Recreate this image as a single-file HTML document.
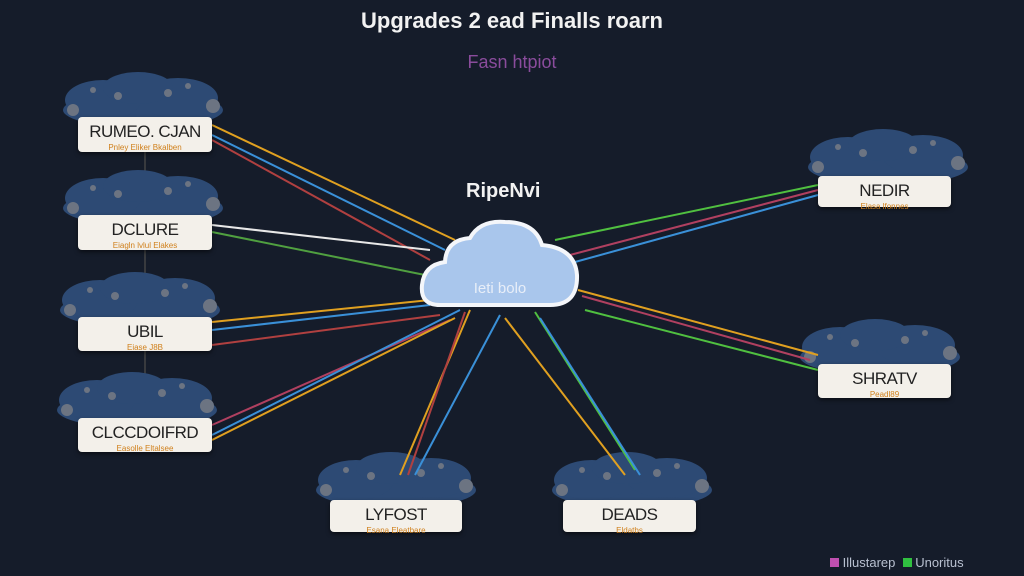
<!DOCTYPE html>
<html><head><style>
body{margin:0;width:1024px;height:576px;background:#151c2a;overflow:hidden;font-family:"Liberation Sans",sans-serif;position:relative}
.box{position:absolute;background:#f3f0ea;border-radius:4px;text-align:center;color:#222;box-shadow:0 2px 4px #0008}
.box b{display:block;font-weight:normal;font-size:17px;margin-top:5px;letter-spacing:-0.5px}
.box i{display:block;font-style:normal;font-size:8px;color:#d0801c;margin-top:1px}
.t{position:absolute;width:100%;text-align:center}
</style></head><body>
<div class="t" style="top:8px;font-size:22px;font-weight:bold;color:#f2f2f2">Upgrades 2 ead Finalls roarn</div>
<div class="t" style="top:52px;font-size:18px;color:#8a4c9c">Fasn htpiot</div>
<div style="position:absolute;left:466px;top:180px;font-size:20px;font-weight:bold;color:#f2f2f2">RipeNvi</div>
<svg width="1024" height="576" style="position:absolute;left:0;top:0">
<defs>
<g id="cl"><ellipse cx="0" cy="2" rx="80" ry="18" fill="#2d4a74"/><ellipse cx="-40" cy="-8" rx="38" ry="20" fill="#2d4a74"/><ellipse cx="35" cy="-10" rx="40" ry="20" fill="#2d4a74"/><ellipse cx="-5" cy="-20" rx="35" ry="16" fill="#2d4a74"/><circle cx="-70" cy="2" r="6" fill="#6c7482"/><circle cx="70" cy="-2" r="7" fill="#6c7482"/><circle cx="25" cy="-15" r="4" fill="#6c7482"/><circle cx="-25" cy="-12" r="4" fill="#6c7482"/><circle cx="45" cy="-22" r="3" fill="#6c7482"/><circle cx="-50" cy="-18" r="3" fill="#6c7482"/></g>
</defs>
<line x1="145" y1="150" x2="145" y2="420" stroke="#444" stroke-width="1.5"/>
<use href="#cl" x="143" y="108"/><use href="#cl" x="143" y="206"/><use href="#cl" x="140" y="308"/><use href="#cl" x="137" y="408"/>
<use href="#cl" x="888" y="165"/><use href="#cl" x="880" y="355"/><use href="#cl" x="396" y="488"/><use href="#cl" x="632" y="488"/>
<g stroke-width="2" fill="none">
<line x1="212" y1="125" x2="455" y2="240" stroke="#e0a020"/>
<line x1="212" y1="135" x2="445" y2="250" stroke="#3a90d8"/>
<line x1="212" y1="140" x2="430" y2="260" stroke="#b04040"/>
<line x1="212" y1="225" x2="430" y2="250" stroke="#e8e8e8"/>
<line x1="212" y1="232" x2="425" y2="275" stroke="#50a040"/>
<line x1="212" y1="322" x2="430" y2="300" stroke="#e0a020"/>
<line x1="212" y1="330" x2="430" y2="305" stroke="#3a90d8"/>
<line x1="212" y1="345" x2="440" y2="315" stroke="#b04040"/>
<line x1="212" y1="425" x2="450" y2="320" stroke="#b04060"/>
<line x1="212" y1="435" x2="460" y2="310" stroke="#3a90d8"/>
<line x1="212" y1="440" x2="455" y2="318" stroke="#e0a020"/>
<line x1="555" y1="240" x2="818" y2="185" stroke="#50c040"/>
<line x1="570" y1="255" x2="818" y2="190" stroke="#b04060"/>
<line x1="575" y1="262" x2="818" y2="195" stroke="#3a90d8"/>
<line x1="578" y1="290" x2="818" y2="355" stroke="#e0a020"/>
<line x1="582" y1="296" x2="810" y2="360" stroke="#b04060"/>
<line x1="585" y1="310" x2="818" y2="370" stroke="#50c040"/>
<line x1="470" y1="310" x2="400" y2="475" stroke="#e0a020"/>
<line x1="465" y1="312" x2="408" y2="475" stroke="#b04040"/>
<line x1="500" y1="315" x2="415" y2="475" stroke="#3a90d8"/>
<line x1="505" y1="318" x2="625" y2="475" stroke="#e0a020"/>
<line x1="535" y1="312" x2="635" y2="470" stroke="#50c040"/>
<line x1="540" y1="318" x2="640" y2="475" stroke="#3a90d8"/>
</g>
<path d="M440 305 Q420 305 422 285 Q424 265 445 262 Q446 240 470 238 Q480 220 505 222 Q535 222 542 245 Q575 248 577 275 Q578 305 550 305 Z" fill="#a9c6ec" stroke="#f4f6fa" stroke-width="4"/>
<text x="500" y="293" text-anchor="middle" font-size="15" fill="#e8eef8" font-family="Liberation Sans">Ieti bolo</text>
</svg>
<div class="box" style="left:78px;top:117px;width:134px;height:35px"><b>RUMEO. CJAN</b><i>Pnley Eliker Bkalben</i></div>
<div class="box" style="left:78px;top:215px;width:134px;height:35px"><b>DCLURE</b><i>Eiagln lvlul Elakes</i></div>
<div class="box" style="left:78px;top:317px;width:134px;height:34px"><b>UBIL</b><i>Eiase J8B</i></div>
<div class="box" style="left:78px;top:418px;width:134px;height:34px"><b>CLCCDOIFRD</b><i>Easolle Eltalsee</i></div>
<div class="box" style="left:818px;top:176px;width:133px;height:31px"><b>NEDIR</b><i>Elasa lfonnes</i></div>
<div class="box" style="left:818px;top:364px;width:133px;height:34px"><b>SHRATV</b><i>Peadl89</i></div>
<div class="box" style="left:330px;top:500px;width:132px;height:32px"><b>LYFOST</b><i>Esana Eleatbare</i></div>
<div class="box" style="left:563px;top:500px;width:133px;height:32px"><b>DEADS</b><i>Eldatbs</i></div>
<div style="position:absolute;left:830px;top:555px;font-size:13px;color:#b8c0d0"><span style="display:inline-block;width:9px;height:9px;background:#c050b0"></span> Illustarep &nbsp;<span style="display:inline-block;width:9px;height:9px;background:#30c040"></span> Unoritus</div>
</body></html>
